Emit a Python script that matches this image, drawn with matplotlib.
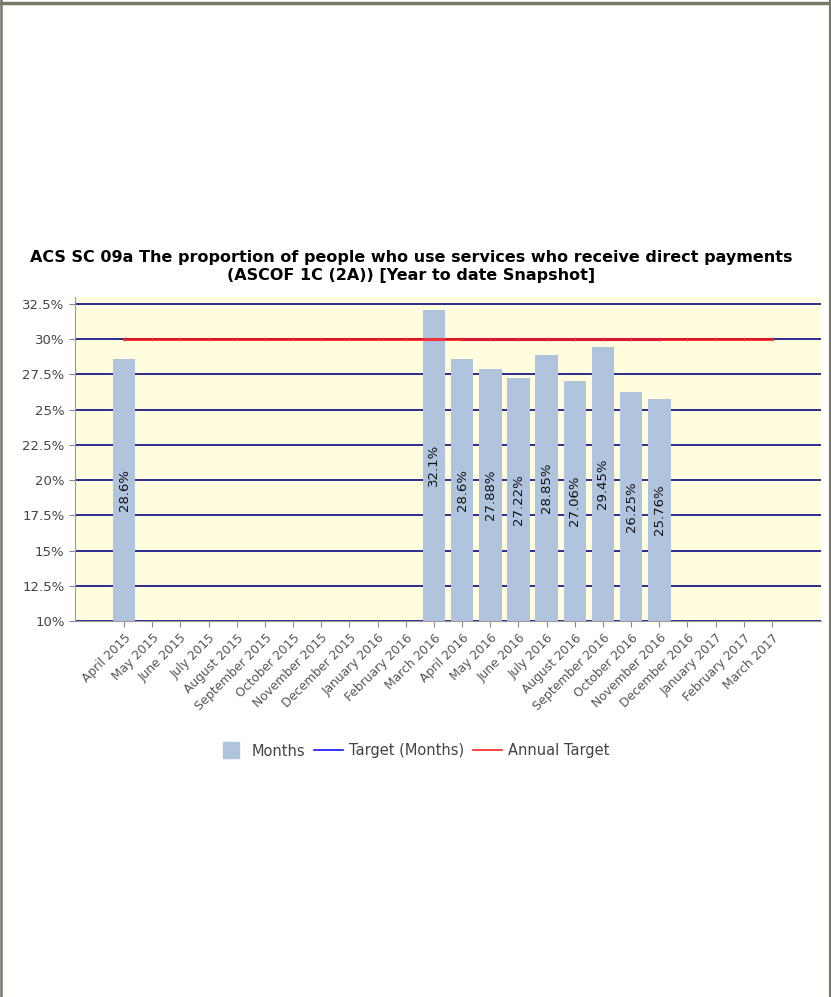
import numpy as np
import matplotlib.pyplot as plt
from matplotlib.lines import Line2D

# Data
months = ["April 2015", "May 2015", "June 2015", "July 2015", "August 2015",
          "September 2015", "October 2015", "November 2015", "December 2015",
          "January 2016", "February 2016", "March 2016", "April 2016", "May 2016",
          "June 2016", "July 2016", "August 2016", "September 2016", "October 2016",
          "November 2016", "December 2016", "January 2017", "February 2017", "March 2017"]
actual = [28.6, None, None, None, None, None, None, None, None, None, None, 32.1,
          28.6, 27.88, 27.22, 28.85, 27.06, 29.45, 26.25, 25.76, None, None, None, None]
target_months = [None] * 12 + [30, 30, 30, 30, 30, 30, 30, 30] + [None] * 4
annual_target = [30] * 24
yticks = [10, 12.5, 15, 17.5, 20, 22.5, 25, 27.5, 30, 32.5]

fig = plt.figure(figsize=(8.31, 9.97), dpi=100)
ax = fig.add_axes([75 / 831, 1 - 621 / 997, (821 - 75) / 831, (621 - 297) / 997])
ax.set_facecolor("#FFFDDD")

x = np.arange(len(months))
for gy in yticks:
    ax.axhline(gy, color="#1A1A8C", lw=1.3, zorder=1)

bx = [i for i, v in enumerate(actual) if v is not None]
bv = [v for v in actual if v is not None]
ax.bar(bx, [v - 10 for v in bv], bottom=10, width=0.8, color="#B0C4DE", zorder=2)
for i, v in zip(bx, bv):
    ax.text(i, (10 + v) / 2, f"{v:g}%", rotation=90, ha="center", va="center",
            fontsize=9.5, color="#111111", zorder=5)

tm = np.array([np.nan if v is None else v for v in target_months], dtype=float)
ax.plot(x, tm, color="#3030B0", lw=2.2, zorder=3)
ax.plot(x, annual_target, color="#FF1010", lw=2.2, alpha=0.8, marker="|",
        markersize=3, markeredgewidth=0.6, markeredgecolor="#E05050", zorder=4)

ax.set_xlim(-1.74, 24.74)
ax.set_ylim(10, 33)
ax.set_yticks(yticks)
ax.set_yticklabels([f"{t:g}%" for t in yticks], fontsize=9.5, color="#444444")
ax.set_xticks(x)
ax.set_xticklabels(months, rotation=45, ha="right", rotation_mode="anchor",
                   fontsize=8.8, color="#555555")
ax.tick_params(axis="both", length=4, color="#888888", width=0.8)
for s in ["top", "right"]:
    ax.spines[s].set_visible(False)
for s in ["left", "bottom"]:
    ax.spines[s].set_color("#999999")

fig.text(411 / 831, 1 - 266.5 / 997,
         "ACS SC 09a The proportion of people who use services who receive direct payments\n(ASCOF 1C (2A)) [Year to date Snapshot]",
         ha="center", va="center", fontsize=11.5, fontweight="bold", linespacing=1.25)

handles = [Line2D([], [], marker="s", ls="", markersize=11, color="#B0C4DE", label="Months"),
           Line2D([], [], color="#1010FF", lw=1.2, label="Target (Months)"),
           Line2D([], [], color="#FF2020", lw=1.2, label="Annual Target")]
fig.legend(handles=handles, loc="center", bbox_to_anchor=(413 / 831, 1 - 751 / 997),
           ncol=3, frameon=False, fontsize=10.5, handlelength=2.0,
           columnspacing=0.6, handletextpad=0.4, labelcolor="#444444")

# outer frame: top, left, right
fc = "#77776A"
fig.add_artist(Line2D([0, 1], [1 - 3 / 997, 1 - 3 / 997], transform=fig.transFigure, color=fc, lw=2.5))
fig.add_artist(Line2D([1 / 831, 1 / 831], [0, 1], transform=fig.transFigure, color=fc, lw=1.8))
fig.add_artist(Line2D([829.5 / 831, 829.5 / 831], [0, 1], transform=fig.transFigure, color=fc, lw=1.5))

plt.savefig("out.png", dpi=100)
